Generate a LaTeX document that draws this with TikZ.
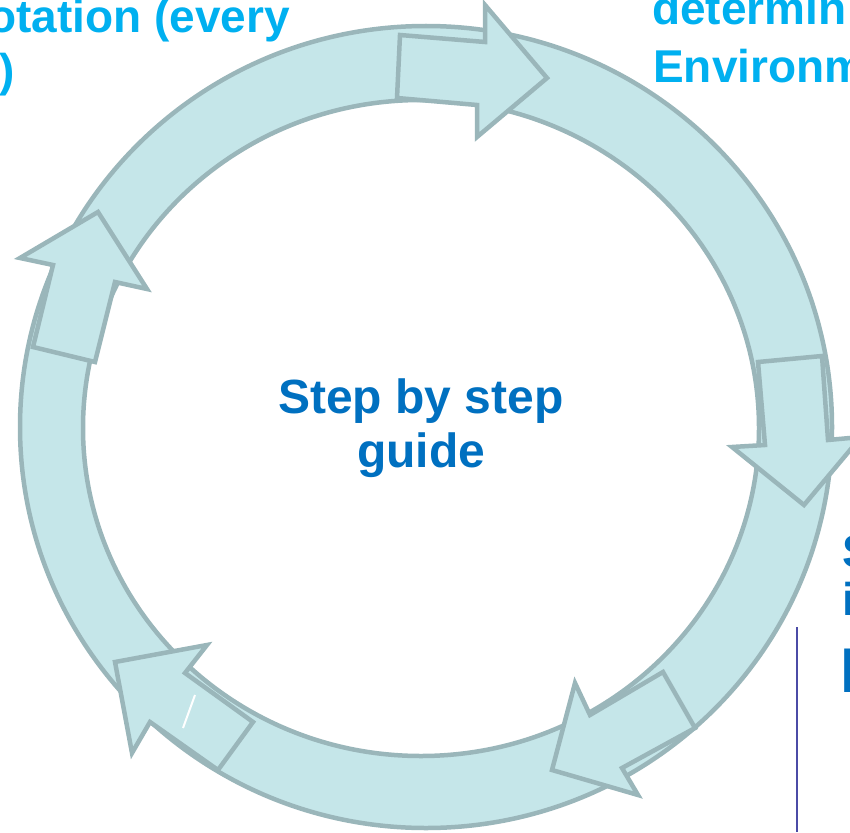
\documentclass[tikz,border=0pt]{standalone}
\usepackage{fontspec}
\setmainfont{Liberation Sans}
\definecolor{ringfill}{HTML}{C5E6E9}
\definecolor{ringline}{HTML}{9AB6BA}
\definecolor{cyantext}{HTML}{00B0F0}
\definecolor{bluetext}{HTML}{0070C0}
\definecolor{rulecol}{HTML}{4B4BA6}
\begin{document}
\begin{tikzpicture}[x=1pt,y=-1pt,
  blockarrow/.style={fill=ringfill,draw=ringline,line width=4.5pt,line join=miter},
  ringedge/.style={draw=ringline,line width=4.5pt},
  lbl/.style={font=\fontsize{46}{52}\selectfont\bfseries,inner sep=0pt},
  centrelbl/.style={font=\fontsize{48}{54}\selectfont\bfseries,inner sep=0pt,text=bluetext}]
\useasboundingbox (0,0) rectangle (850,832);
\clip (0,0) rectangle (850,832);
% ring
\fill[ringfill,even odd rule] (426,427) ellipse [x radius=406,y radius=401]
  (421,428) ellipse [x radius=338,y radius=328];
\draw[ringedge] (426,427) ellipse [x radius=406,y radius=401];
\draw[ringedge] (421,428) ellipse [x radius=338,y radius=328];
% block arrows
\draw[blockarrow] (400,35) -- (485,42) -- (485,5) -- (547,78) -- (477,137) -- (477,105) -- (397,98) -- cycle;
\draw[blockarrow] (758,362) -- (822,356) -- (828,440) -- (861,437) -- (804,505) -- (732,447) -- (765,445) -- cycle;
\draw[blockarrow] (663,672) -- (590,715) -- (575,683) -- (552,770) -- (638,795) -- (622,768) -- (695,728) -- cycle;
\draw[blockarrow] (253,722) -- (185,673) -- (207,645) -- (115,662) -- (132,753) -- (150,722) -- (218,770) -- cycle;
\draw[blockarrow] (33,347) -- (53,265) -- (20,258) -- (98,212) -- (147,289) -- (115,282) -- (95,362) -- cycle;
\draw[white,line width=2pt] (195,695) -- (183,728);
% texts
\node[lbl,text=cyantext,anchor=base east] (t1) at (290,33) {otation (every};
\node[lbl,text=cyantext,anchor=base west] (t2) at (-1,87) {)};
\node[lbl,text=cyantext,anchor=base west] (t3) at (652,25) {determin};
\node[lbl,text=cyantext,anchor=base west] (t4) at (653,83) {Environm};
\node[centrelbl,anchor=base] (c1) at (421,413) {Step by step};
\node[centrelbl,anchor=base] (c2) at (421,467) {guide};
\node[lbl,text=bluetext,anchor=base west] (r1) at (842,567) {S};
\node[lbl,text=bluetext,anchor=base west] (r2) at (842,615) {i};
\node[lbl,text=bluetext,anchor=base west,font=\fontsize{60}{60}\selectfont\bfseries] (r3) at (840,692) {l};
\coordinate (v1) at (797,627);
\coordinate (v2) at (797,832);
\draw[rulecol,line width=2pt] (v1) -- (v2);
\end{tikzpicture}
\end{document}
